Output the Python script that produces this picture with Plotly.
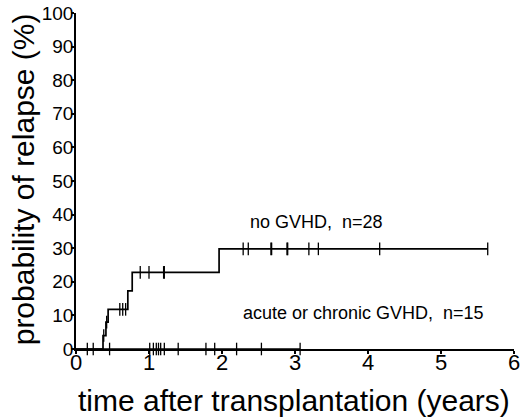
import plotly.graph_objects as go

# no GVHD, n=28 : step curve (years, % relapse)
nogvhd_t = [0, 0.37, 0.41, 0.44, 0.71, 0.77, 1.96, 5.64]
nogvhd_p = [0, 4.0, 8.0, 11.8, 17.3, 22.8, 29.8, 29.8]
# censored patients, no GVHD
nogvhd_cens_t = [0.38, 0.42, 0.60, 0.64, 0.68, 0.88, 1.00, 1.20, 1.21,
                 2.29, 2.36, 2.67, 2.68, 2.89, 2.90, 3.19, 3.32, 4.16, 5.64]
nogvhd_cens_p = [4.0, 8.0, 11.8, 11.8, 11.8, 22.8, 22.8, 22.8, 22.8,
                 29.8, 29.8, 29.8, 29.8, 29.8, 29.8, 29.8, 29.8, 29.8, 29.8]

# acute or chronic GVHD, n=15 : no relapse
gvhd_t = [0, 3.07]
gvhd_p = [0, 0]
gvhd_cens_t = [0.155, 0.236, 0.46, 1.01, 1.06, 1.10, 1.13, 1.16, 1.21,
               1.40, 1.78, 1.90, 2.20, 2.54, 3.07]

x_ticks = [0, 1, 2, 3, 4, 5, 6]
y_ticks = [0, 10, 20, 30, 40, 50, 60, 70, 80, 90, 100]

fnt = "Arial, Liberation Sans, sans-serif"

fig = go.Figure()
fig.add_trace(go.Scatter(x=nogvhd_t, y=nogvhd_p, mode="lines",
                         line=dict(color="black", width=1.7, shape="hv"),
                         showlegend=False))
fig.add_trace(go.Scatter(x=nogvhd_cens_t, y=nogvhd_cens_p, mode="markers",
                         marker=dict(symbol="line-ns", size=9,
                                     line=dict(color="black", width=1.3)),
                         cliponaxis=False, showlegend=False))
fig.add_trace(go.Scatter(x=gvhd_t, y=gvhd_p, mode="lines",
                         line=dict(color="black", width=1.7, shape="hv"),
                         cliponaxis=False, showlegend=False))
fig.add_trace(go.Scatter(x=gvhd_cens_t, y=[0] * len(gvhd_cens_t), mode="markers",
                         marker=dict(symbol="line-ns", size=9,
                                     line=dict(color="black", width=1.3)),
                         cliponaxis=False, showlegend=False))

fig.add_annotation(x=3.30, y=37.8, text="no GVHD,  n=28", showarrow=False,
                   font=dict(family=fnt, size=18, color="black"))
fig.add_annotation(x=3.94, y=10.7, text="acute or chronic GVHD,  n=15", showarrow=False,
                   font=dict(family=fnt, size=18, color="black"))

# axis titles
fig.add_annotation(xref="paper", yref="paper", x=0.497, y=-0.152,
                   text="time after transplantation (years)", showarrow=False,
                   xanchor="center", yanchor="middle",
                   font=dict(family=fnt, size=30, color="black"))
fig.add_annotation(xref="paper", yref="paper", x=-0.118, y=0.506,
                   text="probability of relapse (%)", showarrow=False, textangle=-90,
                   xanchor="center", yanchor="middle",
                   font=dict(family=fnt, size=30, color="black"))

fig.update_layout(
    width=520, height=417,
    margin=dict(l=76, r=6, t=13, b=68),
    paper_bgcolor="white", plot_bgcolor="white",
    font=dict(family=fnt, color="black"),
    xaxis=dict(range=[0, 6], tickvals=x_ticks, showgrid=False, zeroline=False,
               showline=True, linecolor="black", linewidth=1.7, automargin=False,
               ticks="outside", ticklen=3, tickwidth=1.5, tickcolor="black",
               ticklabelstandoff=-10, ticklabeloverflow="allow",
               tickfont=dict(size=22)),
    yaxis=dict(range=[0, 100], tickvals=y_ticks, showgrid=False, zeroline=False,
               showline=True, linecolor="black", linewidth=1.7, automargin=False,
               ticks="outside", ticklen=3, tickwidth=1.5, tickcolor="black",
               ticklabelstandoff=-6, tickfont=dict(size=19)),
)

# page body has a default 8px margin; remove it so the figure fills the window
fig.write_html("out.html", config={"displayModeBar": False},
               post_script="document.body.style.margin='0';")
